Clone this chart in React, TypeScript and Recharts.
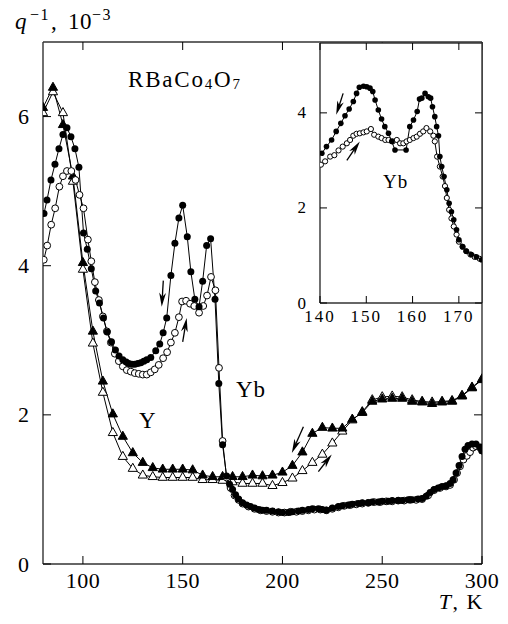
import React from 'react';
import { LineChart, Line, XAxis, YAxis, ReferenceLine } from 'recharts';

const FONT = '"Liberation Serif", "DejaVu Serif", serif';

// Y: triangles, every 5 K
const yT = [80, 85, 90, 95, 100, 105, 110, 115, 120, 125, 130, 135, 140, 145, 150, 155, 160, 165, 170, 175, 180, 185, 190, 195, 200, 205, 210, 215, 220, 225, 230, 235, 240, 245, 250, 255, 260, 265, 270, 275, 280, 285, 290, 295, 300];
const yCoolV = [6.12, 6.39, 5.89, 5.2, 4.04, 3.12, 2.45, 2.01, 1.71, 1.49, 1.36, 1.29, 1.27, 1.27, 1.27, 1.26, 1.19, 1.17, 1.17, 1.17, 1.17, 1.19, 1.18, 1.19, 1.23, 1.32, 1.5, 1.75, 1.83, 1.82, 1.82, 1.94, 2.03, 2.18, 2.21, 2.22, 2.22, 2.18, 2.17, 2.15, 2.17, 2.18, 2.25, 2.36, 2.47];
const yWarmV = [6.05, 6.33, 6.05, 5.13, 3.95, 2.96, 2.3, 1.76, 1.44, 1.28, 1.19, 1.17, 1.16, 1.16, 1.16, 1.16, 1.13, 1.13, 1.12, 1.1, 1.08, 1.08, 1.08, 1.05, 1.09, 1.15, 1.25, 1.36, 1.47, 1.62, 1.78, 1.93, 2.04, 2.2, 2.24, 2.25, 2.24, 2.2, 2.18, 2.17, 2.18, 2.19, 2.26, 2.37, 2.48];

// Yb: circles, cooling (filled)
const ybCoolT = [80.5, 82, 84, 86, 88, 90, 92, 94, 96, 98, 100.3, 102.2, 104.2, 106.4, 108.3, 110.3, 112.2, 114.3, 116.3, 118.1, 120, 121.7, 123, 124.5, 126, 127.5, 129, 130.5, 132, 134, 136.5, 138.5, 140.2, 142, 144.1, 146.1, 148.1, 150, 152.3, 154.1, 156.1, 158.2, 160, 162, 164, 166.2, 168.1, 170, 172, 173.5, 175, 176.5, 178, 180, 182, 184, 186, 188, 190, 192, 195, 198, 200, 203, 205, 208, 210, 213, 215, 218, 220, 222, 225, 228, 230, 233, 235, 238, 240, 243, 245, 248, 250, 253, 255, 258, 260, 263, 265, 268, 270, 272, 274, 276, 278, 280, 282, 284, 285.5, 287, 288.5, 290, 291.5, 293, 295, 297, 299, 300];
const ybCoolV = [4.7, 4.88, 5.15, 5.36, 5.57, 5.76, 5.85, 5.73, 5.57, 5.32, 4.44, 4.22, 3.96, 3.66, 3.5, 3.3, 3.11, 2.98, 2.87, 2.79, 2.74, 2.71, 2.69, 2.68, 2.68, 2.69, 2.7, 2.72, 2.74, 2.77, 2.86, 2.95, 3.1, 3.3, 3.87, 4.3, 4.64, 4.81, 4.39, 3.92, 3.55, 3.45, 3.79, 4.27, 4.36, 3.55, 2.42, 1.6, 1.18, 1.07, 1.0, 0.93, 0.87, 0.82, 0.79, 0.77, 0.75, 0.73, 0.72, 0.72, 0.71, 0.7, 0.69, 0.69, 0.7, 0.71, 0.72, 0.73, 0.74, 0.74, 0.73, 0.72, 0.75, 0.77, 0.78, 0.79, 0.8, 0.81, 0.82, 0.82, 0.83, 0.83, 0.84, 0.84, 0.85, 0.85, 0.85, 0.86, 0.86, 0.87, 0.88, 0.91, 0.96, 1.0, 1.02, 1.04, 1.05, 1.08, 1.13, 1.22, 1.32, 1.44, 1.54, 1.59, 1.61, 1.61, 1.57, 1.52];

// Yb: circles, warming (open)
const ybWarmT = [80.4, 82.1, 84.1, 86.1, 88.2, 90, 92, 94.2, 96.3, 98.3, 100.3, 102.5, 104.2, 106, 108, 110, 112, 114, 116, 118, 120, 122, 124, 126, 128, 130, 132, 134, 136, 138, 140.2, 142.2, 144.1, 146.1, 148.1, 149.7, 151.7, 153.7, 155.8, 158.2, 160.3, 162.2, 164.2, 166.4, 168.2, 170, 172, 174, 176, 178, 180, 183, 186, 189, 192, 195, 198, 201, 204, 207, 210, 213, 216, 219, 222, 225, 228, 231, 234, 237, 240, 243, 246, 249, 252, 255, 258, 261, 264, 267, 270, 273, 276, 279, 282, 284, 286, 287.5, 289, 290.7, 292.4, 294, 295.5, 297, 299, 300];
const ybWarmV = [4.08, 4.27, 4.55, 4.77, 5.06, 5.2, 5.27, 5.27, 5.15, 4.95, 4.77, 4.35, 4.06, 3.78, 3.54, 3.32, 3.12, 2.97, 2.82, 2.72, 2.65, 2.6, 2.58, 2.56, 2.55, 2.54, 2.54, 2.57, 2.61, 2.67, 2.76, 2.84, 2.97, 3.1, 3.31, 3.52, 3.53, 3.49, 3.46, 3.37, 3.46, 3.6, 3.85, 3.67, 2.63, 1.65, 1.16, 1.02, 0.92, 0.86, 0.81, 0.77, 0.74, 0.72, 0.71, 0.7, 0.69, 0.69, 0.7, 0.7, 0.71, 0.72, 0.73, 0.73, 0.72, 0.74, 0.76, 0.78, 0.79, 0.8, 0.81, 0.82, 0.83, 0.83, 0.84, 0.84, 0.85, 0.85, 0.86, 0.86, 0.87, 0.92, 0.99, 1.02, 1.04, 1.06, 1.13, 1.22, 1.31, 1.4, 1.45, 1.5, 1.56, 1.58, 1.56, 1.52];

// inset, Yb 140-175 K
const inCoolT = [140.4, 141.4, 142.5, 143.5, 144.5, 145.4, 146.3, 147.2, 147.9, 148.5, 149.4, 150.1, 150.8, 151.4, 151.9, 152.6, 153.3, 154, 154.8, 155.5, 156.2, 158.6, 159.4, 160.2, 161, 161.5, 162, 162.7, 163.4, 163.9, 164.3, 164.8, 165.2, 165.6, 165.9, 166.3, 166.8, 167.4, 167.9, 168.4, 168.9, 169.5, 170, 170.8, 171.6, 172.7, 173.8, 174.9];
const inCoolV = [3.15, 3.29, 3.43, 3.61, 3.78, 3.94, 4.08, 4.24, 4.41, 4.54, 4.56, 4.55, 4.52, 4.45, 4.27, 4.06, 3.87, 3.71, 3.57, 3.4, 3.22, 3.22, 3.71, 3.85, 4.03, 4.29, 4.31, 4.41, 4.34, 4.31, 4.13, 3.92, 3.71, 3.52, 3.08, 2.87, 2.66, 2.38, 2.1, 1.92, 1.75, 1.54, 1.33, 1.19, 1.09, 1.02, 0.97, 0.91];
const inWarmT = [140.2, 141.1, 142.2, 143.1, 144, 144.9, 145.8, 146.5, 147.2, 147.9, 148.6, 149.4, 150.1, 151, 151.7, 152.6, 153.3, 154.1, 154.8, 155.7, 156.6, 157.3, 158, 158.7, 159.4, 160.2, 160.9, 161.6, 162.3, 163, 163.8, 164.5, 164.8, 165.3, 165.9, 166.5, 167, 167.4, 167.9, 168.4, 168.9, 169.5, 170, 170.8, 171.6, 172.5, 173.4, 174.5];
const inWarmV = [2.91, 2.98, 3.08, 3.11, 3.21, 3.29, 3.36, 3.43, 3.52, 3.56, 3.57, 3.59, 3.61, 3.66, 3.54, 3.5, 3.47, 3.43, 3.43, 3.4, 3.43, 3.36, 3.36, 3.4, 3.43, 3.47, 3.5, 3.56, 3.61, 3.68, 3.61, 3.52, 3.4, 3.08, 2.87, 2.66, 2.46, 2.21, 1.96, 1.78, 1.61, 1.44, 1.29, 1.18, 1.09, 1.02, 0.97, 0.93];

const mainXTicks = [100, 150, 200, 250, 300];
const mainYTicks = [0, 2, 4, 6];
const insetXTicks = [140, 150, 160, 170];
const insetYTicks = [0, 2, 4];

// arrows: [tailT, tailV, tipT, tipV]
const mainArrows = [
  [140.3, 3.8, 139.5, 3.45],
  [150, 2.98, 152, 3.3],
  [210.5, 1.84, 204.7, 1.49],
  [218, 1.24, 224.7, 1.47],
];
const insetArrows = [
  [145.0, 4.41, 143.5, 3.96],
  [145.8, 3.0, 148.6, 3.4],
];

const zip = (ts: number[], vs: number[]) => ts.map((t, i) => ({ t, v: vs[i] }));

const filledCircle = (r: number) => (p: any) => (
  <circle key={`f${p.index}`} cx={p.cx} cy={p.cy} r={r} fill="#000" />
);
const openCircle = (r: number) => (p: any) => (
  <circle key={`o${p.index}`} cx={p.cx} cy={p.cy} r={r} fill="#fff" stroke="#000" strokeWidth={1} />
);
const triangle = (filled: boolean) => (p: any) => (
  <polygon
    key={`t${p.index}`}
    points={`${p.cx},${p.cy - 5.3} ${p.cx - 4.6},${p.cy + 2.8} ${p.cx + 4.6},${p.cy + 2.8}`}
    fill={filled ? '#000' : '#fff'}
    stroke="#000"
    strokeWidth={1}
  />
);

const Arrow = (p: any) => {
  const { x1, y1, x2, y2 } = p;
  const dx = x2 - x1;
  const dy = y2 - y1;
  const L = Math.hypot(dx, dy) || 1;
  const ux = dx / L;
  const uy = dy / L;
  const hl = 14;
  const hw = 3.4;
  const bx = x2 - ux * hl;
  const by = y2 - uy * hl;
  const nx = x2 - ux * (hl - 4);
  const ny = y2 - uy * (hl - 4);
  return (
    <g>
      <line x1={x1} y1={y1} x2={nx} y2={ny} stroke="#000" strokeWidth={1.3} />
      <polygon
        points={`${x2},${y2} ${bx - uy * hw},${by + ux * hw} ${nx},${ny} ${bx + uy * hw},${by - ux * hw}`}
        fill="#000"
      />
    </g>
  );
};

const makeTick = (side: string, size: number, fs: number, showLabel: boolean, spacing = 0, gap = 14) => (p: any) => {
  const { x, y, payload } = p;
  let line = null;
  let label = null;
  if (side === 'bottom') {
    line = <line x1={x} y1={y} x2={x} y2={y - size} stroke="#000" />;
    if (showLabel) label = <text x={x} y={y + fs + 2} textAnchor="middle" fontSize={fs} fontFamily={FONT} letterSpacing={spacing}>{payload.value}</text>;
  } else if (side === 'top') {
    line = <line x1={x} y1={y} x2={x} y2={y + size} stroke="#000" />;
  } else if (side === 'left') {
    line = <line x1={x} y1={y} x2={x + size} y2={y} stroke="#000" />;
    if (showLabel) label = <text x={x - gap} y={y} textAnchor="end" dominantBaseline="central" fontSize={fs} fontFamily={FONT}>{payload.value}</text>;
  } else {
    line = <line x1={x} y1={y} x2={x - size} y2={y} stroke="#000" />;
  }
  return <g>{line}{label}</g>;
};

const axisLine = { stroke: '#333', strokeWidth: 1.4 };

export default function App() {
  return (
    <div style={{ position: 'absolute', left: 0, top: 0, width: 508, height: 624, background: '#fff' }}>
      <div style={{ position: 'absolute', left: 0, top: 0 }}>
        <LineChart width={508} height={624} margin={{ top: 12, right: 16, bottom: 30, left: 13 }}>
          <XAxis xAxisId="b" type="number" dataKey="t" domain={[80, 300]} allowDataOverflow ticks={mainXTicks} height={30}
            tickSize={0} tickMargin={0} tickLine={false} axisLine={axisLine} tick={makeTick('bottom', 8, 22, true, 0.5)} />
          <XAxis xAxisId="t" orientation="top" type="number" dataKey="t" domain={[80, 300]} allowDataOverflow ticks={mainXTicks} height={30}
            tickSize={0} tickMargin={0} tickLine={false} axisLine={axisLine} tick={makeTick('top', 8, 22, false)} />
          <YAxis yAxisId="l" type="number" domain={[0, 7]} allowDataOverflow ticks={mainYTicks} width={30}
            tickSize={0} tickMargin={0} tickLine={false} axisLine={axisLine} tick={makeTick('left', 8, 22, true, 0, 14)} />
          <YAxis yAxisId="r" orientation="right" type="number" domain={[0, 7]} allowDataOverflow ticks={mainYTicks} width={10}
            tickSize={0} tickMargin={0} tickLine={false} axisLine={axisLine} tick={makeTick('right', 8, 22, false)} />
          <Line xAxisId="b" yAxisId="l" data={zip(yT, yWarmV)} dataKey="v" type="linear" stroke="#000" strokeWidth={1}
            dot={triangle(false)} activeDot={false} isAnimationActive={false} />
          <Line xAxisId="b" yAxisId="l" data={zip(yT, yCoolV)} dataKey="v" type="linear" stroke="#000" strokeWidth={1}
            dot={triangle(true)} activeDot={false} isAnimationActive={false} />
          <Line xAxisId="b" yAxisId="l" data={zip(ybWarmT, ybWarmV)} dataKey="v" type="linear" stroke="#000" strokeWidth={1}
            dot={openCircle(3.4)} activeDot={false} isAnimationActive={false} />
          <Line xAxisId="b" yAxisId="l" data={zip(ybCoolT, ybCoolV)} dataKey="v" type="linear" stroke="#000" strokeWidth={1}
            dot={filledCircle(3.5)} activeDot={false} isAnimationActive={false} />
          {mainArrows.map((a, i) => (
            <ReferenceLine key={`ma${i}`} xAxisId="b" yAxisId="l" segment={[{ x: a[0], y: a[1] }, { x: a[2], y: a[3] }]} shape={Arrow} ifOverflow="visible" />
          ))}
        </LineChart>
      </div>
      <div style={{ position: 'absolute', left: 320, top: 43, width: 162, height: 260, background: '#fff' }} />
      <div style={{ position: 'absolute', left: 0, top: 0 }}>
        <LineChart width={508} height={624} margin={{ top: 23, right: 16, bottom: 291, left: 300 }}>
          <XAxis xAxisId="b" type="number" dataKey="t" domain={[140, 175]} allowDataOverflow ticks={insetXTicks} height={30}
            tickSize={0} tickMargin={0} tickLine={false} axisLine={axisLine} tick={makeTick('bottom', 7, 17, true, 2)} />
          <XAxis xAxisId="t" orientation="top" type="number" dataKey="t" domain={[140, 175]} allowDataOverflow ticks={insetXTicks} height={20}
            tickSize={0} tickMargin={0} tickLine={false} axisLine={axisLine} tick={makeTick('top', 7, 17, false)} />
          <YAxis yAxisId="l" type="number" domain={[0, 5.47]} allowDataOverflow ticks={insetYTicks} width={20}
            tickSize={0} tickMargin={0} tickLine={false} axisLine={axisLine} tick={makeTick('left', 7, 17, true, 0, 14)} />
          <YAxis yAxisId="r" orientation="right" type="number" domain={[0, 5.47]} allowDataOverflow ticks={insetYTicks} width={10}
            tickSize={0} tickMargin={0} tickLine={false} axisLine={axisLine} tick={makeTick('right', 7, 17, false)} />
          <Line xAxisId="b" yAxisId="l" data={zip(inWarmT, inWarmV)} dataKey="v" type="linear" stroke="#000" strokeWidth={1}
            dot={openCircle(2.6)} activeDot={false} isAnimationActive={false} />
          <Line xAxisId="b" yAxisId="l" data={zip(inCoolT, inCoolV)} dataKey="v" type="linear" stroke="#000" strokeWidth={1}
            dot={filledCircle(2.8)} activeDot={false} isAnimationActive={false} />
          {insetArrows.map((a, i) => (
            <ReferenceLine key={`ia${i}`} xAxisId="b" yAxisId="l" segment={[{ x: a[0], y: a[1] }, { x: a[2], y: a[3] }]} shape={Arrow} ifOverflow="visible" />
          ))}
        </LineChart>
      </div>
      <svg width={508} height={624} style={{ position: 'absolute', left: 0, top: 0, pointerEvents: 'none' }} fontFamily={FONT}>
        <text y={29} fontSize={23}>
          <tspan x={15} fontStyle="italic">q</tspan>
          <tspan x={30} dy={-9} fontSize={16} letterSpacing={1.5}>−1</tspan>
          <tspan x={51} dy={9}>,</tspan>
          <tspan x={68} letterSpacing={0.5}>10</tspan>
          <tspan x={92} dy={-9} fontSize={16} letterSpacing={1.5}>−3</tspan>
        </text>
        <text x={128} y={87} fontSize={23} letterSpacing={1.8}>
          RBaCo<tspan fontSize={15} dy={2}>4</tspan><tspan dy={-2}>O</tspan><tspan fontSize={15} dy={2}>7</tspan>
        </text>
        <text x={139} y={428} fontSize={23}>Y</text>
        <text x={236} y={397} fontSize={23} letterSpacing={1}>Yb</text>
        <text x={383} y={188} fontSize={19} letterSpacing={1}>Yb</text>
        <text x={484} y={609} fontSize={22} textAnchor="end" letterSpacing={1.5}>
          <tspan fontStyle="italic">T</tspan>, K
        </text>
      </svg>
    </div>
  );
}
